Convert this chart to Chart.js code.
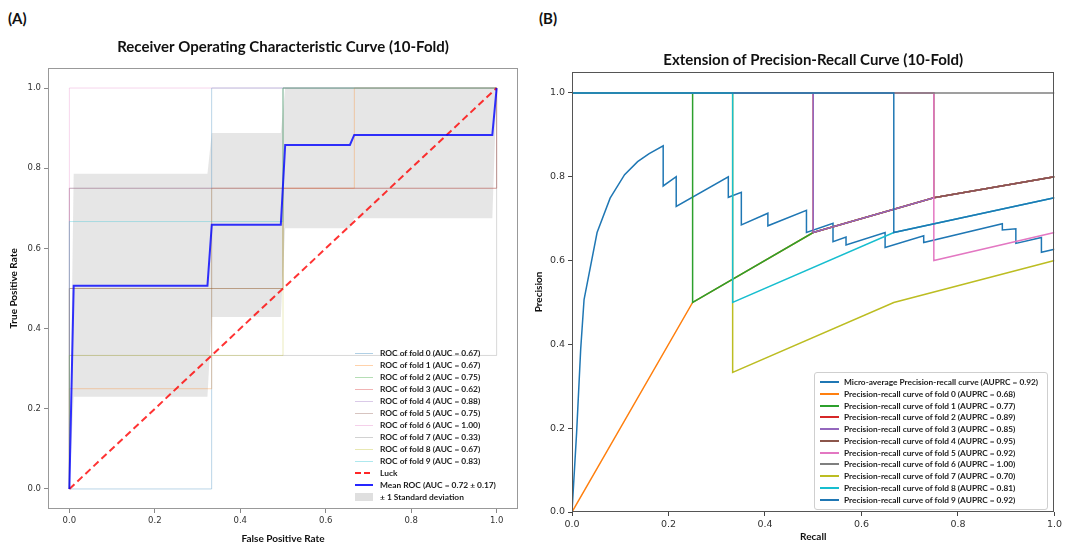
<!DOCTYPE html>
<html>
<head>
<meta charset="utf-8">
<script src="https://cdn.jsdelivr.net/npm/chart.js@4.4.1/dist/chart.umd.min.js"></script>
<style>
  body { margin: 0; background: #fff; width: 1065px; height: 545px; position: relative; overflow: hidden; font-family: Lato, sans-serif; }
  .wrap { position: absolute; top: 0; width: 540px; height: 545px; }
  #wrapA { left: 0; }
  #wrapB { left: 525px; }
  .tag { position: absolute; top: 9px; font: bold 15px Lato, sans-serif; color: #111; }
  .leg { position: absolute; font: bold 8.4px Lato, sans-serif; color: #1a1a1a; }
  .leg .row { position: absolute; left: 0; white-space: nowrap; height: 12px; line-height: 12px; }
  .leg .h { position: absolute; left: 0; }
  .leg .t { position: absolute; top: 0; }
  #legB { border: 1px solid #cfcfcf; border-radius: 3px; background: rgba(255,255,255,0.85); font-size: 8.3px; }
</style>
</head>
<body>
<div class="tag" style="left:8px">(A)</div>
<div class="tag" style="left:539px">(B)</div>
<div class="wrap" id="wrapA"><canvas id="rocChart" width="540" height="545"></canvas></div>
<div class="wrap" id="wrapB"><canvas id="prChart" width="540" height="545"></canvas></div>
<div class="leg" id="legA" style="left:355px;top:347px;width:160px;height:156px"></div>
<div class="leg" id="legB" style="left:814px;top:372px;width:232px;height:136px"></div>
<script>
// ---------- (A) ROC data ----------
const rocFpr = [
  [0, 0.333, 0.333, 1],
  [0, 0, 0.333, 0.333, 0.667, 0.667, 1],
  [0, 0, 0.5, 0.5, 1],
  [0, 0, 0.5, 0.5, 1, 1],
  [0, 0, 0.5, 0.5, 1],
  [0, 0, 1, 1],
  [0, 0, 1],
  [0, 0, 1, 1],
  [0, 0, 0.5, 0.5, 1],
  [0, 0, 0.5, 0.5, 1]
];
const rocTpr = [
  [0, 0, 1, 1],
  [0, 0.25, 0.25, 0.75, 0.75, 1, 1],
  [0, 0.5, 0.5, 1, 1],
  [0, 0.5, 0.5, 0.75, 0.75, 1],
  [0, 0.75, 0.75, 1, 1],
  [0, 0.75, 0.75, 1],
  [0, 1, 1],
  [0, 0.333, 0.333, 1],
  [0, 0.333, 0.333, 1, 1],
  [0, 0.667, 0.667, 1, 1]
];
const rocAuc = ['0.67', '0.67', '0.75', '0.62', '0.88', '0.75', '1.00', '0.33', '0.67', '0.83'];
const meanFpr = [0, 0.0101, 0.3232, 0.3333, 0.4949, 0.5051, 0.6566, 0.6667, 0.9899, 1.0];
const meanTpr = [0, 0.507, 0.507, 0.659, 0.659, 0.858, 0.858, 0.883, 0.883, 1.0];
const tprUpper = [0, 0.786, 0.786, 0.888, 0.888, 1, 1, 1, 1, 1];
const tprLower = [0, 0.23, 0.23, 0.429, 0.429, 0.65, 0.65, 0.675, 0.675, 1.0];
const luckX = [0, 1];
const luckY = [0, 1];

// ---------- (B) PR data ----------
const microRecall = [0, 0.0096, 0.018, 0.025, 0.052, 0.079, 0.109, 0.136, 0.160, 0.189, 0.189, 0.216, 0.216,
  0.324, 0.324, 0.351, 0.351, 0.406, 0.406, 0.486, 0.486, 0.541, 0.541, 0.568, 0.568, 0.649, 0.649,
  0.729, 0.729, 0.892, 0.892, 0.92, 0.92, 0.973, 0.973, 1.0];
const microPrecision = [0, 0.19, 0.388, 0.507, 0.667, 0.749, 0.805, 0.836, 0.855, 0.874, 0.778, 0.80, 0.729,
  0.80, 0.751, 0.763, 0.685, 0.713, 0.683, 0.72, 0.667, 0.689, 0.645, 0.656, 0.637, 0.667, 0.631,
  0.659, 0.643, 0.688, 0.673, 0.676, 0.641, 0.655, 0.62, 0.627];
const prRecall = [
  [0, 0.25, 0.5, 0.75, 1],
  [0, 0.25, 0.25, 0.5, 0.75, 1],
  [0, 0.5, 0.5, 0.75, 1],
  [0, 0.5, 0.5, 0.75, 1],
  [0, 0.75, 0.75, 1],
  [0, 0.75, 0.75, 1],
  [0, 1],
  [0, 0.333, 0.333, 0.667, 1],
  [0, 0.333, 0.333, 0.667, 1],
  [0, 0.667, 0.667, 1]
];
const prPrecision = [
  [0, 0.5, 0.667, 0.75, 0.8],
  [1, 1, 0.5, 0.667, 0.75, 0.8],
  [1, 1, 0.667, 0.75, 0.8],
  [1, 1, 0.667, 0.75, 0.8],
  [1, 1, 0.75, 0.8],
  [1, 1, 0.6, 0.667],
  [1, 1],
  [1, 1, 0.333, 0.5, 0.6],
  [1, 1, 0.5, 0.667, 0.75],
  [1, 1, 0.667, 0.75]
];
const prAuc = ['0.68', '0.77', '0.89', '0.85', '0.95', '0.92', '1.00', '0.70', '0.81', '0.92'];
const microAuc = '0.92';

const tickVals = [0, 0.2, 0.4, 0.6, 0.8, 1.0];
const tab10 = ['31,119,180', '255,127,14', '44,160,44', '214,39,40', '148,103,189',
  '140,86,75', '227,119,194', '127,127,127', '188,189,34', '23,190,207'];

const pts = (xs, ys) => xs.map((x, i) => ({ x, y: ys[i] }));

const framePlugin = color => ({
  id: 'frame',
  afterDatasetsDraw(chart) {
    const a = chart.chartArea, c = chart.ctx;
    c.save();
    c.strokeStyle = color; c.lineWidth = 1;
    c.strokeRect(Math.round(a.left) + 0.5, Math.round(a.top) + 0.5, Math.round(a.right - a.left) - 1, Math.round(a.bottom - a.top) - 1);
    c.restore();
  }
});

const axis = (min, max, title, opts) => ({
  type: 'linear', min, max,
  afterBuildTicks: s => { s.ticks = tickVals.map(v => ({ value: v })); },
  afterFit: s => { if (opts.w) s.width = opts.w; if (opts.h) s.height = opts.h; },
  border: { display: false },
  grid: { drawOnChartArea: false, drawTicks: true, tickLength: 4, color: opts.axisColor },
  ticks: { callback: v => v.toFixed(1), color: '#333', padding: 3, font: { family: "'DejaVu Sans'", size: opts.tickSize } },
  title: { display: true, text: title, color: '#111', padding: { top: 0, bottom: opts.titlePad || 0 },
    font: { family: 'Lato', weight: 'bold', size: 10, lineHeight: 1.2 } }
});

// ---------- (A) ----------
const rocSets = rocFpr.map((xs, i) => ({
  label: 'ROC of fold ' + i + ' (AUC = ' + rocAuc[i] + ')',
  data: pts(xs, rocTpr[i]),
  borderColor: 'rgba(' + tab10[i] + ',0.3)',
  borderWidth: 1, order: -i
}));
rocSets.push({
  label: 'Luck', data: pts(luckX, luckY),
  borderColor: 'rgba(255,0,0,0.8)', borderWidth: 2, borderDash: [7, 4], order: -10
});
rocSets.push({
  label: 'Mean ROC (AUC = 0.72 \u00b1 0.17)', data: pts(meanFpr, meanTpr),
  borderColor: 'rgba(0,0,255,0.8)', borderWidth: 2, order: -11
});
rocSets.push({
  label: '\u00b1 1 Standard deviation', data: pts(meanFpr, tprUpper),
  borderWidth: 0, borderColor: 'transparent', backgroundColor: 'rgba(128,128,128,0.2)', fill: '+1', order: 5
});
rocSets.push({
  label: 'lower', data: pts(meanFpr, tprLower),
  borderWidth: 0, borderColor: 'transparent', fill: false, order: 5
});

new Chart(document.getElementById('rocChart'), {
  type: 'scatter',
  data: { datasets: rocSets.map(d => Object.assign({ showLine: true, pointRadius: 0, tension: 0, borderJoinStyle: 'miter' }, d)) },
  options: {
    responsive: false, animation: false,
    layout: { padding: { left: 8, right: 22, top: 0, bottom: 0 } },
    plugins: {
      legend: { display: false }, tooltip: { enabled: false },
      title: { display: true, fullSize: false, text: 'Receiver Operating Characteristic Curve (10-Fold)', color: '#111',
        padding: { top: 38, bottom: 12 }, font: { family: 'Lato', weight: 'bold', size: 15, lineHeight: 1.2 } }
    },
    scales: {
      x: axis(-0.05, 1.05, 'False Positive Rate', { h: 36, axisColor: '#888', tickSize: 8.5 }),
      y: axis(-0.05, 1.05, 'True Positive Rate', { w: 40, axisColor: '#888', tickSize: 8.5 })
    }
  },
  plugins: [framePlugin('#999')]
});

// ---------- (B) ----------
const prColors = ['rgb(' + tab10[0] + ')'].concat(prRecall.map((xs, i) => 'rgb(' + tab10[(i + 1) % 10] + ')'));
const prSets = [{
  label: 'Micro-average Precision-recall curve (AUPRC = ' + microAuc + ')',
  data: pts(microRecall, microPrecision),
  borderColor: prColors[0], order: 0
}];
prRecall.forEach((xs, i) => prSets.push({
  label: 'Precision-recall curve of fold ' + i + ' (AUPRC = ' + prAuc[i] + ')',
  data: pts(xs, prPrecision[i]),
  borderColor: prColors[i + 1], order: -(i + 1)
}));

new Chart(document.getElementById('prChart'), {
  type: 'scatter',
  data: { datasets: prSets.map(d => Object.assign({ showLine: true, pointRadius: 0, tension: 0, borderWidth: 1.5, borderJoinStyle: 'miter' }, d)) },
  options: {
    responsive: false, animation: false,
    layout: { padding: { left: 8, right: 6, top: 0, bottom: 0 } },
    plugins: {
      legend: { display: false }, tooltip: { enabled: false },
      title: { display: true, fullSize: false, text: 'Extension of Precision-Recall Curve (10-Fold)', color: '#111',
        padding: { top: 51, bottom: 3 }, font: { family: 'Lato', weight: 'bold', size: 15, lineHeight: 1.2 } }
    },
    scales: {
      x: axis(0, 1, 'Recall', { h: 33, axisColor: '#444', tickSize: 9.5, titlePad: 2 }),
      y: axis(0, 1.05, 'Precision', { w: 39, axisColor: '#444', tickSize: 9.5 })
    }
  },
  plugins: [framePlugin('#555')]
});

// ---------- legends ----------
function buildLegend(el, items, top0, step, hx, hw, tx) {
  items.forEach((it, i) => {
    const row = document.createElement('div');
    row.className = 'row';
    row.style.top = Math.round(top0 + i * step) + 'px';
    const h = document.createElement('div');
    h.className = 'h';
    h.style.left = hx + 'px';
    h.style.width = hw + 'px';
    const hh = it.patch ? 8 : it.width;
    h.style.height = hh + 'px';
    h.style.top = Math.round(6 - hh / 2) + 'px';
    if (it.dashed) {
      h.style.backgroundImage = 'repeating-linear-gradient(90deg, ' + it.color + ' 0 6px, transparent 6px 9px)';
    } else {
      h.style.backgroundColor = it.color;
    }
    const t = document.createElement('div');
    t.className = 't';
    t.style.left = tx + 'px';
    t.textContent = it.label;
    row.appendChild(h); row.appendChild(t);
    el.appendChild(row);
  });
}

const legAItems = rocAuc.map((a, i) => ({ label: 'ROC of fold ' + i + ' (AUC = ' + a + ')', color: 'rgba(' + tab10[i] + ',0.35)', width: 1 }));
legAItems.push({ label: 'Luck', color: 'rgba(255,0,0,0.85)', width: 2, dashed: true });
legAItems.push({ label: 'Mean ROC (AUC = 0.72 \u00b1 0.17)', color: 'rgba(0,0,255,0.85)', width: 2 });
legAItems.push({ label: '\u00b1 1 Standard deviation', color: 'rgba(128,128,128,0.25)', patch: true });
buildLegend(document.getElementById('legA'), legAItems, 0, 12, 0, 18, 25);

const legBItems = prSets.map((d, i) => ({ label: d.label, color: prColors[i], width: 2 }));
buildLegend(document.getElementById('legB'), legBItems, 3, 11.76, 5, 19, 29);
</script>
</body>
</html>
